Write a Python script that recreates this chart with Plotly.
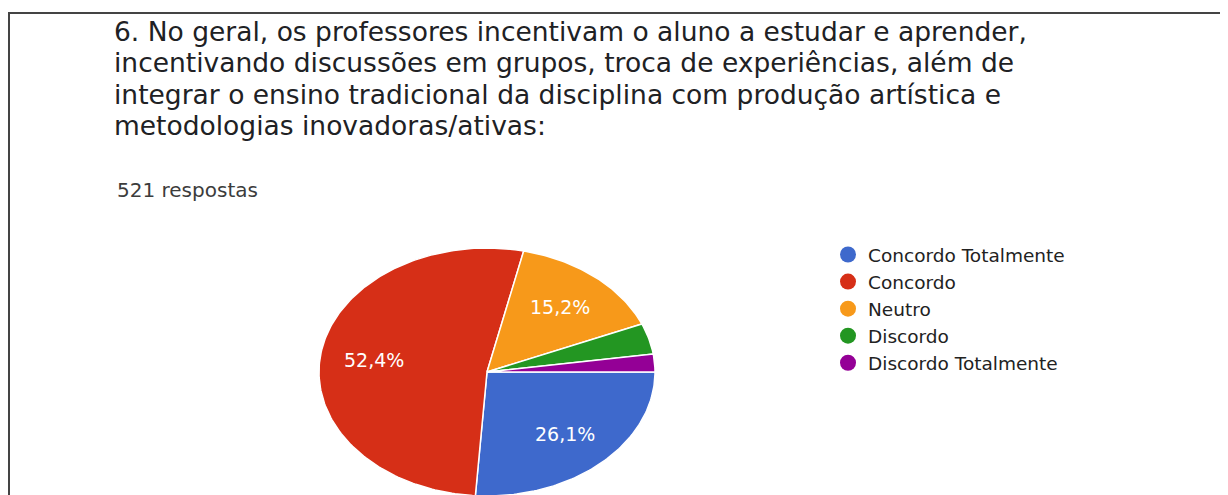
import numpy as np
import plotly.graph_objects as go

# ---- data ----
categories = ["Concordo Totalmente", "Concordo", "Neutro", "Discordo", "Discordo Totalmente"]
counts = [136, 273, 79, 21, 12]          # 521 respostas
colors = ["#3E69CC", "#D62F17", "#F7991A", "#239622", "#940096"]
title_lines = [
    "6. No geral, os professores incentivam o aluno a estudar e aprender,",
    "incentivando discussões em grupos, troca de experiências, além de",
    "integrar o ensino tradicional da disciplina com produção artística e",
    "metodologias inovadoras/ativas:",
]
responses_label = "521 respostas"

# ---- layout constants (pixels, page coordinates) ----
W, H = 1228, 495
OFF = 8                      # default body margin of the html page
cx, cy, rx, ry = 487, 372, 168, 124
FONT = "DejaVu Sans"

fig = go.Figure()
total = sum(counts)
start = 0.0
annotations = []
for name, c, col in zip(categories, counts, colors):
    frac = c / total
    n = max(int(frac * 360), 2) + 1
    t = np.linspace(start, start + frac, n) * 2 * np.pi
    xs = np.concatenate([[cx], cx + rx * np.cos(t), [cx]])
    ys = np.concatenate([[cy], cy + ry * np.sin(t), [cy]])
    fig.add_trace(go.Scatter(
        x=xs, y=ys, mode="lines", fill="toself", fillcolor=col,
        line=dict(color="white", width=1.5), showlegend=False, hoverinfo="skip"))
    if frac > 0.05:
        mid = (start + frac / 2) * 2 * np.pi
        annotations.append(dict(
            x=cx + 0.68 * rx * np.cos(mid), y=cy + 0.68 * ry * np.sin(mid),
            xref="x", yref="y", showarrow=False,
            text=f"{frac * 100:.1f}".replace(".", ",") + "%",
            font=dict(family=FONT, size=19, color="white")))
    start += frac

# legend entries
for name, col in zip(categories, colors):
    fig.add_trace(go.Scatter(x=[None], y=[None], mode="markers", name=name,
                             marker=dict(size=16, color=col, symbol="circle")))

# title lines
for i, line in enumerate(title_lines):
    annotations.append(dict(
        x=112, y=31 + i * 31.5, xref="x", yref="y", xanchor="left", yanchor="middle",
        showarrow=False, text=line, font=dict(family=FONT, size=26.5, color="#202124")))

annotations.append(dict(
    x=115, y=190, xref="x", yref="y", xanchor="left", yanchor="middle",
    showarrow=False, text=responses_label, font=dict(family=FONT, size=20, color="#3c3c3c")))

shapes = [
    dict(type="line", xref="x", yref="y", x0=9, y0=H + 10, x1=9, y1=13,
         line=dict(color="#444444", width=2)),
    dict(type="line", xref="x", yref="y", x0=8, y0=13, x1=W + 10, y1=13,
         line=dict(color="#444444", width=2)),
]

fig.update_layout(
    width=W, height=H, margin=dict(l=0, r=0, t=0, b=0),
    paper_bgcolor="white", plot_bgcolor="white",
    xaxis=dict(range=[OFF, W + OFF], visible=False, fixedrange=True),
    yaxis=dict(range=[H + OFF, OFF], visible=False, fixedrange=True),
    showlegend=True,
    legend=dict(x=(828 - OFF) / W, y=1 - (236 - OFF) / H, xanchor="left", yanchor="top",
                font=dict(family=FONT, size=18.5, color="#222222"),
                bgcolor="rgba(0,0,0,0)", itemclick=False, itemdoubleclick=False),
    annotations=annotations, shapes=shapes,
)

fig.write_html("out.html")
